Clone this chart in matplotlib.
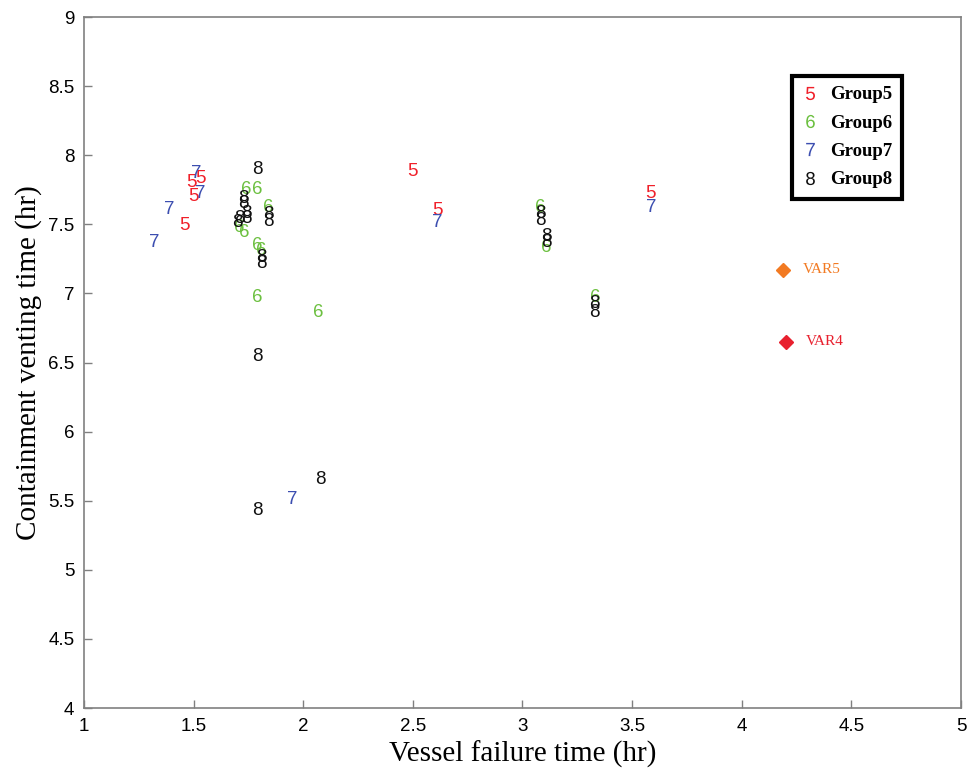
import matplotlib
matplotlib.use("Agg")
import matplotlib.pyplot as plt
from matplotlib.lines import Line2D

plt.rcParams['mathtext.fontset'] = 'custom'
plt.rcParams['mathtext.rm'] = 'Liberation Sans'
plt.rcParams['mathtext.it'] = 'Liberation Sans'

# Group data: vessel failure time (hr), containment venting time (hr)
g5_x = [1.46, 1.50, 1.49, 1.53, 2.50, 2.61, 3.585]
g5_y = [7.49, 7.70, 7.80, 7.83, 7.88, 7.60, 7.72]

g6_x = [1.74, 1.79, 1.84, 1.71, 1.73, 1.79, 1.81, 1.79, 2.07, 3.08, 3.11, 3.33]
g6_y = [7.75, 7.75, 7.62, 7.48, 7.44, 7.35, 7.31, 6.97, 6.86, 7.62, 7.33, 6.97]

g7_x = [1.32, 1.39, 1.51, 1.53, 2.61, 3.585, 1.95]
g7_y = [7.37, 7.61, 7.87, 7.72, 7.51, 7.62, 5.51]

g8_x = [1.79, 1.725, 1.725, 1.74, 1.74, 1.71, 1.70, 1.84, 1.84, 1.81, 1.81,
        1.79, 1.79, 2.08, 3.08, 3.08, 3.11, 3.11, 3.33, 3.33]
g8_y = [7.90, 7.69, 7.65, 7.58, 7.54, 7.54, 7.51, 7.57, 7.52, 7.26, 7.22,
        6.54, 5.43, 5.65, 7.58, 7.53, 7.41, 7.37, 6.93, 6.86]

groups = ['5', '6', '7', '8']
xs = [g5_x, g6_x, g7_x, g8_x]
ys = [g5_y, g6_y, g7_y, g8_y]
colors = ['#f0202a', '#6cc040', '#3c4eb0', '#111111']

var_names = ['VAR5', 'VAR4']
var_x = [4.19, 4.20]
var_y = [7.17, 6.65]
var_colors = ['#f27a22', '#e8202e']

fig = plt.figure(figsize=(9.71, 7.77), dpi=100)
ax = fig.add_axes([0.0865, 0.0888, 0.9032, 0.8893])

for g, x, y, c in zip(groups, xs, ys, colors):
    for xi, yi in zip(x, y):
        ax.text(xi, yi, g, color=c, fontsize=13.5, family='Liberation Sans',
                ha='center', va='center')

for name, x, y, c in zip(var_names, var_x, var_y, var_colors):
    ax.plot(x, y, marker='D', color=c, markersize=7, linestyle='none')
    ax.text(x + 0.09, y, name, color=c, fontsize=11, family='Liberation Serif',
            va='center')

handles = [Line2D([], [], linestyle='none', marker='$' + g + '$', color=c,
                  markersize=9.5, markeredgewidth=0) for g, c in zip(groups, colors)]
leg = ax.legend(handles, ['Group' + g for g in groups], loc='upper right',
                bbox_to_anchor=(0.933, 0.915), fancybox=False, framealpha=1,
                prop={'family': 'Liberation Serif', 'weight': 'bold', 'size': 13.5},
                handlelength=0.8, handletextpad=0.65, labelspacing=0.6,
                borderpad=0.55, borderaxespad=0)
leg.get_frame().set_edgecolor('black')
leg.get_frame().set_linewidth(3)

ax.set_xlim(1, 5)
ax.set_ylim(4, 9)
ax.set_xticks([1, 1.5, 2, 2.5, 3, 3.5, 4, 4.5, 5])
ax.set_xticklabels(['1', '1.5', '2', '2.5', '3', '3.5', '4', '4.5', '5'])
ax.set_yticks([4, 4.5, 5, 5.5, 6, 6.5, 7, 7.5, 8, 8.5, 9])
ax.set_yticklabels(['4', '4.5', '5', '5.5', '6', '6.5', '7', '7.5', '8', '8.5', '9'])
ax.tick_params(direction='in', length=6, color='#808080', labelsize=13.5,
               width=1, pad=7)
for lbl in ax.get_xticklabels() + ax.get_yticklabels():
    lbl.set_family('Liberation Sans')
for s in ax.spines.values():
    s.set_color('#808080')
    s.set_linewidth(1.2)

ax.set_xlabel('Vessel failure time (hr)', family='Liberation Serif', fontsize=21,
              labelpad=4)
ax.set_ylabel('Containment venting time (hr)', family='Liberation Serif',
              fontsize=21, labelpad=4)

fig.savefig('out.png', dpi=100)
